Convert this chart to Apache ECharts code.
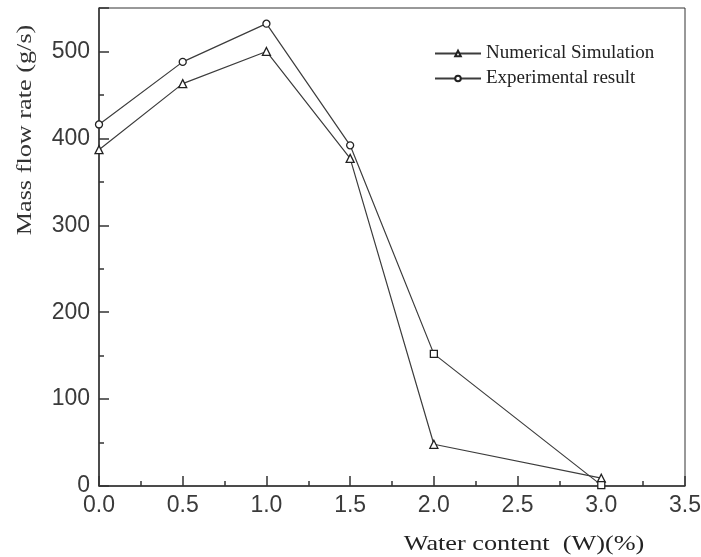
<!DOCTYPE html>
<html>
<head>
<meta charset="utf-8">
<script src="https://cdn.jsdelivr.net/npm/echarts@6/dist/echarts.min.js"></script>
<style>
  html, body { margin: 0; padding: 0; background: #fff; }
  #chart { width: 701px; height: 557px; }
</style>
</head>
<body>
<div id="chart"></div>
<script>
// values
var waterContent = [0, 0.5, 1.0, 1.5, 2.0, 3.0];
var simulation = [387, 463, 500, 377, 48, 9];
var experiment = [416, 488, 532, 392, 152, 1];

var myChart = echarts.init(document.getElementById('chart'));

function pairs(xs, ys) {
    return xs.map(function (x, i) { return [x, ys[i]]; });
}

var lineColor = '#3c3c3c';
var serif = '"Liberation Serif", "DejaVu Serif", serif';
var sans = '"Liberation Sans", Arial, sans-serif';
var axisLine = { lineStyle: { color: '#333', width: 1.5 } };

myChart.setOption({
    animation: false,
    grid: {
        left: 99, right: 16, top: 8, bottom: 71,
        outerBoundsMode: 'none',
        show: true, borderColor: '#333', borderWidth: 1
    },
    legend: {
        orient: 'vertical',
        left: 429, top: 39,
        itemWidth: 46, itemHeight: 7, itemGap: 6,
        textStyle: { fontFamily: serif, fontSize: 19, color: '#222' },
        data: ['Numerical Simulation', 'Experimental result']
    },
    xAxis: {
        type: 'value',
        min: 0, max: 3.5, interval: 0.5,
        splitLine: { show: false },
        axisLine: axisLine,
        axisTick: { inside: true, length: 10, lineStyle: { color: '#333', width: 1.5 } },
        minorTick: { show: true, splitNumber: 2, length: 5, lineStyle: { color: '#333', width: 1.5 } },
        axisLabel: {
            margin: 8, color: '#3a3a3a', fontFamily: sans, fontSize: 23,
            formatter: function (v) { return v.toFixed(1); }
        }
    },
    yAxis: [
        {
            // short ticks every 50, labels every 100
            type: 'value',
            min: 0, max: 550, interval: 50,
            splitLine: { show: false },
            axisLine: { show: true, lineStyle: { color: '#333', width: 1.5 } },
            axisTick: { show: true, inside: true, length: 5, lineStyle: { color: '#333', width: 1.5 } },
            axisLabel: {
                margin: 9, color: '#3a3a3a', fontFamily: sans, fontSize: 23,
                formatter: function (v) { return v % 100 === 0 ? String(v) : ''; }
            }
        },
        {
            // long ticks every 100
            type: 'value', position: 'left',
            min: 0, max: 550, interval: 100,
            splitLine: { show: false },
            axisLine: { show: false },
            axisTick: { show: true, inside: true, length: 10, lineStyle: { color: '#333', width: 1.5 } },
            axisLabel: { show: false }
        }
    ],
    graphic: [
        {
            type: 'text', x: 25, y: 130, rotation: Math.PI / 2, scaleX: 1.25,
            style: {
                text: 'Mass flow rate (g/s)', fill: '#333',
                font: '21px ' + serif, align: 'center', verticalAlign: 'middle'
            }
        },
        {
            type: 'text', x: 524, y: 544, scaleX: 1.25,
            style: {
                text: 'Water content  (W)(%)', fill: '#222',
                font: '21px ' + serif, align: 'center', verticalAlign: 'middle'
            }
        }
    ],
    series: [
        {
            name: 'Numerical Simulation',
            type: 'line',
            data: pairs(waterContent, simulation),
            symbol: 'triangle', symbolSize: 8,
            itemStyle: { color: '#fff', borderColor: '#222', borderWidth: 1.3 },
            lineStyle: { color: lineColor, width: 1.2 }
        },
        {
            name: 'Experimental result',
            type: 'line',
            data: pairs(waterContent, experiment),
            symbol: function (val, params) { return params.dataIndex >= 4 ? 'rect' : 'circle'; },
            symbolSize: 7,
            itemStyle: { color: '#fff', borderColor: '#222', borderWidth: 1.3 },
            lineStyle: { color: lineColor, width: 1.2 }
        }
    ]
});
</script>
</body>
</html>
